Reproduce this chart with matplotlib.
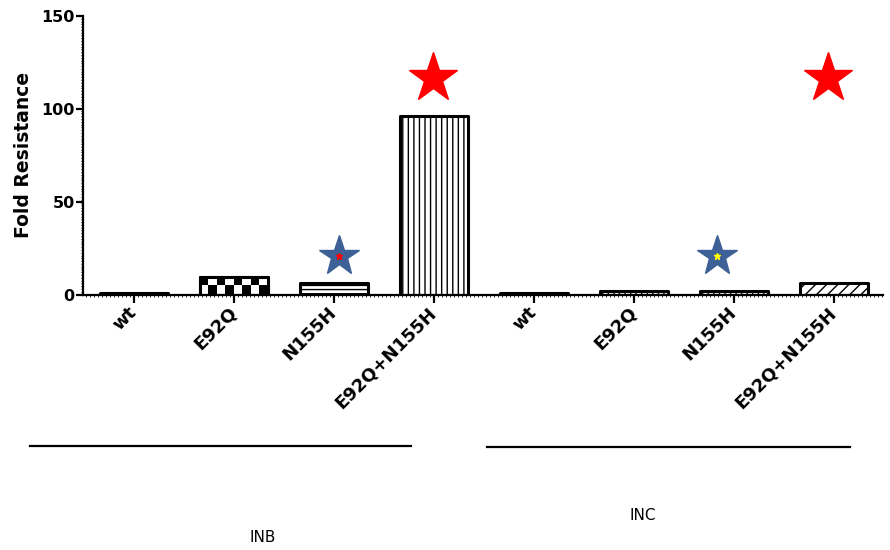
import numpy as np
import matplotlib.pyplot as plt
from matplotlib.lines import Line2D
from matplotlib.ticker import MultipleLocator

# fold resistance per mutant, INB and INC groups
mutants = ['wt', 'E92Q', 'N155H', 'E92Q+N155H']
inb_fold = [1.0, 9.7, 6.3, 96.0]
inc_fold = [1.0, 2.0, 2.0, 6.2]

labels = mutants + mutants
values = inb_fold + inc_fold
hatches = ['', '', '----', '|||', '', '|||', '|||', '///']

# star markers (significance flags)
red_star_x = [2.99, 6.94]
red_star_y = [116.6, 116.6]
blue_star_x = [2.05, 5.83]
blue_star_y = [20.8, 20.8]
dot_colors = ['red', 'yellow']

plt.rcParams['hatch.linewidth'] = 1.0

fig = plt.figure(figsize=(8.9, 5.5), dpi=100)
ax = fig.add_axes([0.0933, 0.4645, 0.8987, 0.5065])

x = np.arange(len(values))
bars = ax.bar(x, values, width=0.68, facecolor='white', edgecolor='black',
              linewidth=2.2, zorder=2)
for b, h in zip(bars, hatches):
    b.set_hatch(h)
    b.set_joinstyle('round')

# checkerboard fill for the INB E92Q bar
b = bars[1]
checker = np.indices((2, 8)).sum(axis=0) % 2
img = ax.imshow(checker, cmap='gray', interpolation='nearest', aspect='auto',
                extent=(b.get_x(), b.get_x() + b.get_width(), 0, b.get_height()),
                zorder=2.5)
img.set_clip_path(b)
outline = ax.bar(x[1], values[1], width=0.68, fill=False, edgecolor='black',
                 linewidth=2.2, zorder=3)
outline[0].set_joinstyle('round')

# stars
ax.plot(red_star_x, red_star_y, ls='none', marker='*', ms=37, color='red',
        clip_on=False, zorder=4)
ax.plot(blue_star_x, blue_star_y, ls='none', marker='*', ms=30,
        color='#3d6196', clip_on=False, zorder=4)
for sx, sy, c in zip(blue_star_x, blue_star_y, dot_colors):
    ax.plot(sx, sy, marker='*', ms=5, color=c, zorder=5)

ax.set_xlim(-0.51, 7.49)
ax.set_ylim(0, 150)
ax.set_yticks([0, 50, 100, 150])
ax.set_xticks(x)
ax.set_xticklabels(labels, rotation=45, ha='right', va='center',
                   rotation_mode='anchor', fontweight='bold', fontsize=13)
for t in ax.get_yticklabels():
    t.set_fontweight('bold')
    t.set_fontsize(11.5)
ax.set_ylabel('Fold Resistance', fontweight='bold', fontsize=13.5, labelpad=6)

for s in ['top', 'right']:
    ax.spines[s].set_visible(False)
for s in ['left', 'bottom']:
    ax.spines[s].set_linewidth(1.6)

ax.xaxis.set_minor_locator(MultipleLocator(0.04))
ax.yaxis.set_minor_locator(MultipleLocator(1.5))
ax.tick_params(axis='x', which='major', length=6, width=1.6, pad=5)
ax.tick_params(axis='y', which='major', length=5, width=1.6, pad=1)
ax.tick_params(which='minor', length=1.5, width=0.6)

# group brackets below the axis
fig.add_artist(Line2D([30 / 890, 411 / 890], [0.189, 0.189], color='black', lw=1.6))
fig.add_artist(Line2D([487 / 890, 850 / 890], [0.187, 0.187], color='black', lw=1.6))
fig.text(263 / 890, 1 - 538 / 550, 'INB', ha='center', va='center', fontsize=11,
         family=['Liberation Sans Narrow', 'DejaVu Sans'])
fig.text(643 / 890, 1 - 516 / 550, 'INC', ha='center', va='center', fontsize=11,
         family=['Liberation Sans Narrow', 'DejaVu Sans'])

fig.savefig('out.png', dpi=100)
